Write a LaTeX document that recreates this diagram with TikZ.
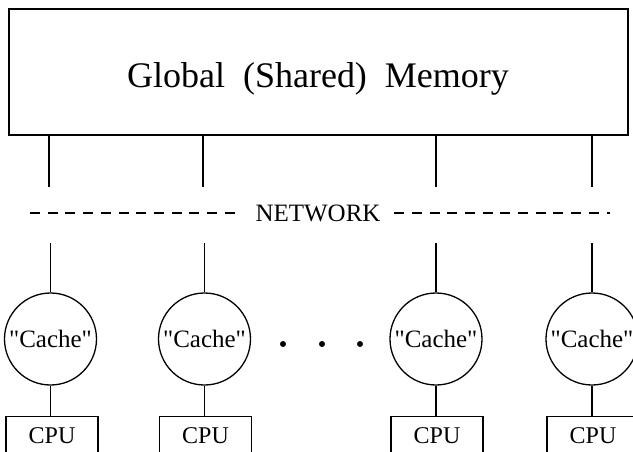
\documentclass[tikz,border=0pt]{standalone}
\usepackage{fontspec}
\setmainfont{Liberation Serif}
\begin{document}
\begin{tikzpicture}[x=1pt,y=-1pt,line width=1.3pt,
  membox/.style={draw,rectangle,minimum width=619pt,minimum height=126pt,inner sep=0pt},
  cachenode/.style={draw,circle,minimum size=92pt,inner sep=0pt,font=\fontsize{25}{25}\selectfont},
  cpubox/.style={draw,rectangle,anchor=north,minimum width=92pt,inner xsep=0pt,inner ysep=11pt,
     text height=16pt,text depth=14pt,font=\fontsize{24}{24}\selectfont},
  netdash/.style={dash pattern=on 10pt off 7.7pt},
  dotnode/.style={circle,fill,inner sep=0pt,minimum size=6pt}]
\path[use as bounding box] (0,0) rectangle (633,451);
\clip (0,0) rectangle (633,451);
% memory
\node[membox] (mem) at (318.5,72) {};
\node[anchor=base,font=\fontsize{36}{36}\selectfont,inner sep=0pt] (memtext) at (318,87) {Global\ \ (Shared)\ \ Memory};
% memory ports
\coordinate (m1) at (49,187);
\coordinate (m2) at (203,187);
\coordinate (m3) at (436,187);
\coordinate (m4) at (592,187);
\draw (mem.south -| m1) -- (m1);
\draw (mem.south -| m2) -- (m2);
\draw (mem.south -| m3) -- (m3);
\draw (mem.south -| m4) -- (m4);
% network
\node[font=\fontsize{25}{25}\selectfont,inner xsep=13pt,inner ysep=0pt] (net) at (318,213) {NETWORK};
\coordinate (netL) at (30,213);
\coordinate (netR) at (610,213);
\draw[netdash] (netL) -- (net.west);
\draw[netdash] (net.east) -- (netR);
% caches
\node[cachenode] (c1) at (50.5,339) {\textquotedbl Cache\textquotedbl};
\node[cachenode] (c2) at (204.5,339) {\textquotedbl Cache\textquotedbl};
\node[cachenode] (c3) at (436,339) {\textquotedbl Cache\textquotedbl};
\node[cachenode] (c4) at (592,339) {\textquotedbl Cache\textquotedbl};
\coordinate (t1) at (50.5,243);
\coordinate (t2) at (204.5,243);
\coordinate (t3) at (436,243);
\coordinate (t4) at (592,243);
\draw (t1) -- (c1);
\draw (t2) -- (c2);
\draw (t3) -- (c3);
\draw (t4) -- (c4);
% dots
\node[dotnode] (d1) at (283,344) {};
\node[dotnode] (d2) at (322,344) {};
\node[dotnode] (d3) at (360,344) {};
% cpus
\node[cpubox] (p1) at (52,416) {CPU};
\node[cpubox] (p2) at (205.5,416) {CPU};
\node[cpubox] (p3) at (437,416) {CPU};
\node[cpubox] (p4) at (593,416) {CPU};
\draw (c1.south) -- (c1.south |- p1.north);
\draw (c2.south) -- (c2.south |- p2.north);
\draw (c3.south) -- (c3.south |- p3.north);
\draw (c4.south) -- (c4.south |- p4.north);
\end{tikzpicture}
\end{document}
